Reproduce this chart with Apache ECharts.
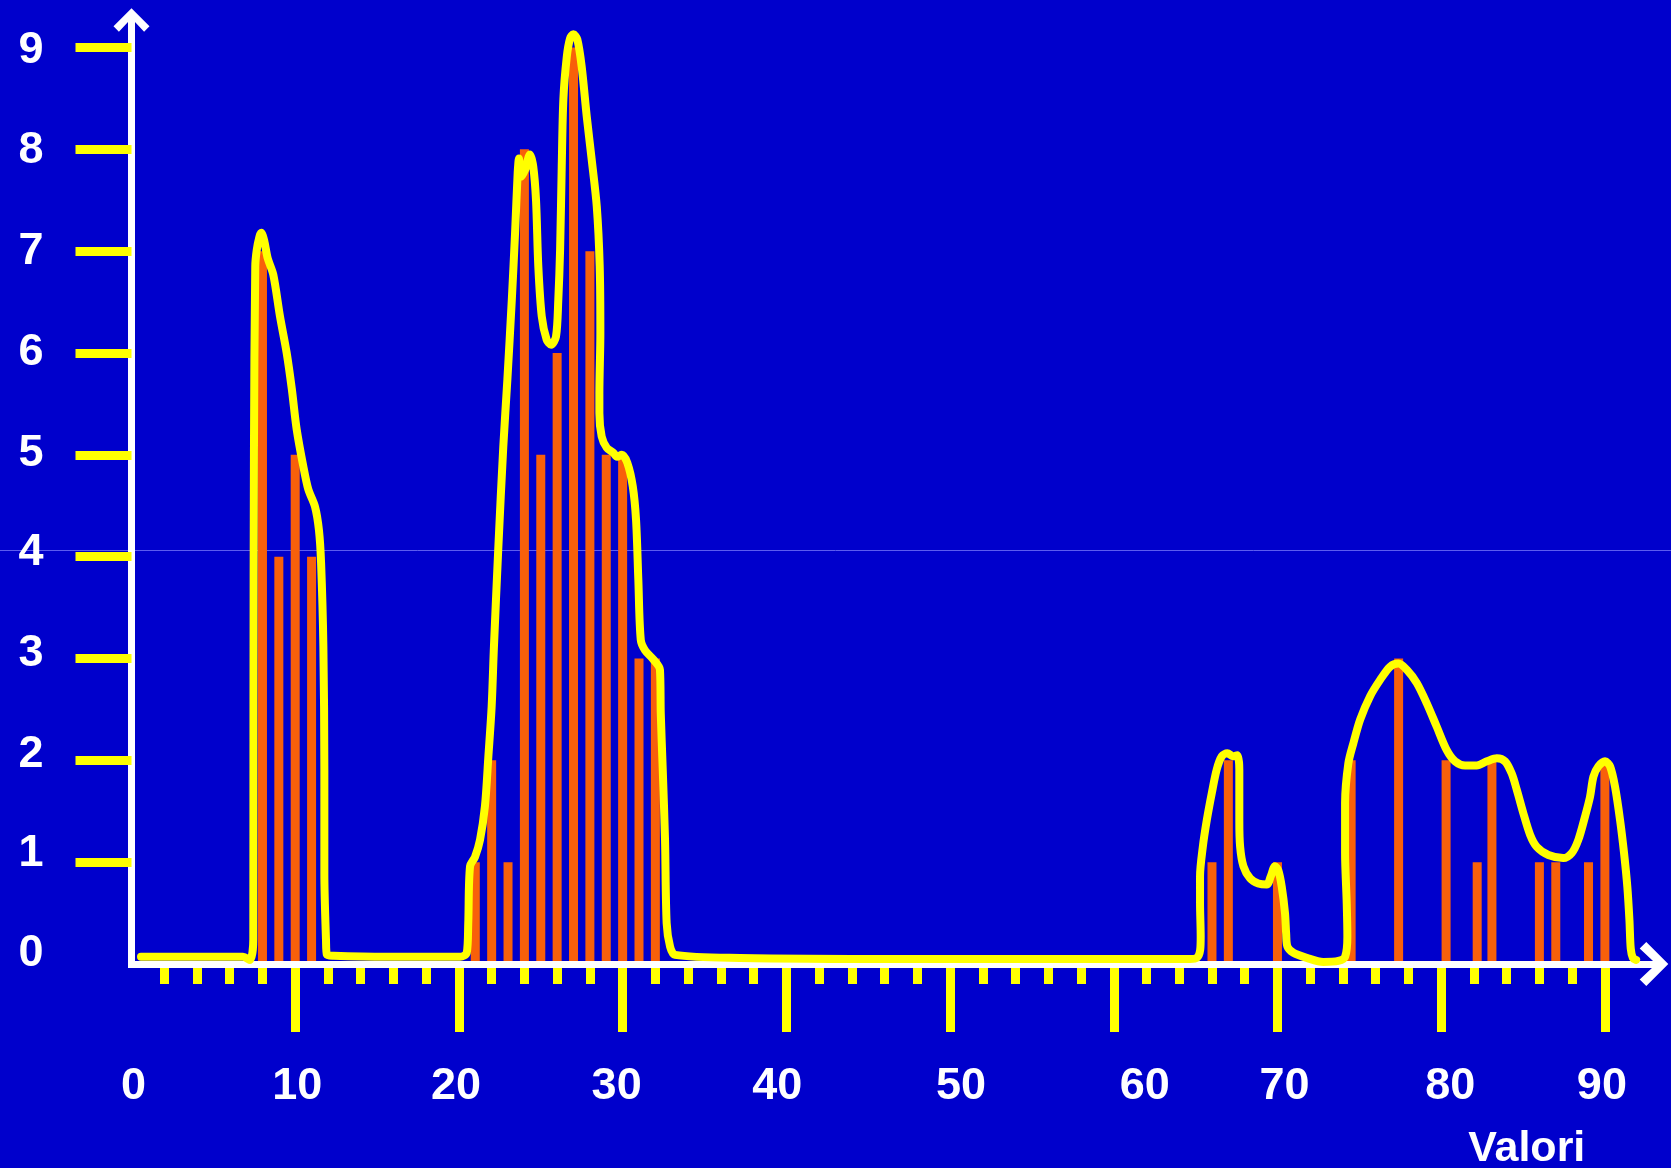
<!DOCTYPE html>
<html>
<head>
<meta charset="utf-8">
<script src="https://cdn.jsdelivr.net/npm/echarts@6/dist/echarts.min.js"></script>
<style>
html,body{margin:0;padding:0;background:#0000CC;}
#c{width:1671px;height:1168px;}
</style>
</head>
<body>
<div id="c"></div>
<script>
// ---- data ----
const barX = [8, 9, 10, 11, 21, 22, 23, 24, 25, 26, 27, 28, 29, 30, 31, 32, 66, 67, 70, 74.5, 77.4, 80.3, 82.2, 83.1, 86, 87, 89, 90];
const barY = [7, 4, 5, 4, 1, 2, 1, 8, 5, 6, 9, 7, 5, 5, 3, 3, 1, 2, 1, 2, 3, 2, 1, 2, 1, 1, 1, 2];

const curveX = [0.58, 6.81, 7.24, 7.44, 7.45, 7.48, 7.56, 7.65, 7.81, 7.93, 8.11, 8.32, 8.66, 9.07, 9.48, 9.79, 10.09, 10.49, 10.80, 11.21, 11.45, 11.58, 11.72, 11.78, 11.78, 11.88, 11.94, 12.33, 15.59, 20.07, 20.48, 20.57, 20.68, 20.98, 21.29, 21.59, 21.80, 22.00, 22.14, 22.41, 22.71, 22.96, 23.23, 23.43, 23.59, 23.67, 23.79, 24.04, 24.34, 24.54, 24.71, 24.85, 25.06, 25.36, 25.63, 25.93, 26.07, 26.18, 26.28, 26.38, 26.59, 26.79, 26.99, 27.23, 27.50, 27.81, 28.11, 28.42, 28.60, 28.64, 28.58, 28.58, 28.72, 29.03, 29.43, 29.66, 29.95, 30.29, 30.62, 30.82, 30.96, 31.11, 31.37, 31.88, 32.28, 32.33, 32.45, 32.59, 32.69, 32.90, 33.20, 37.17, 46.95, 64.66, 65.07, 65.28, 65.31, 65.27, 65.27, 65.44, 65.68, 65.99, 66.29, 66.60, 66.94, 67.27, 67.55, 67.67, 67.67, 67.72, 67.92, 68.33, 68.83, 69.35, 69.59, 69.85, 70.05, 70.26, 70.46, 70.53, 70.61, 70.97, 71.79, 72.80, 73.72, 74.13, 74.27, 74.23, 74.13, 74.13, 74.33, 74.64, 75.05, 75.66, 76.27, 76.88, 77.39, 77.90, 78.51, 79.12, 79.73, 80.34, 80.85, 81.46, 82.17, 82.79, 83.40, 83.90, 84.31, 84.62, 85.02, 85.43, 85.84, 86.55, 87.46, 87.98, 88.38, 88.79, 89.09, 89.30, 89.60, 90.01, 90.32, 90.62, 90.93, 91.17, 91.37, 91.50, 91.58, 91.71, 91.91];
const curveY = [0.07, 0.07, 0.04, 0.24, 2.59, 5.05, 6.85, 7.01, 7.14, 7.18, 7.10, 6.93, 6.77, 6.36, 6.00, 5.65, 5.25, 4.89, 4.66, 4.49, 4.26, 3.94, 3.12, 1.91, 0.89, 0.24, 0.09, 0.08, 0.07, 0.07, 0.11, 0.40, 0.96, 1.05, 1.22, 1.55, 2.04, 2.53, 3.12, 4.10, 5.08, 5.74, 6.52, 7.18, 7.77, 7.91, 7.73, 7.80, 7.95, 7.83, 7.50, 6.85, 6.36, 6.13, 6.08, 6.16, 6.52, 7.01, 7.83, 8.49, 8.91, 9.09, 9.13, 9.08, 8.81, 8.32, 7.90, 7.44, 6.85, 6.20, 5.60, 5.41, 5.18, 5.07, 5.02, 4.98, 5.00, 4.92, 4.69, 4.36, 3.77, 3.18, 3.08, 2.99, 2.89, 2.46, 1.91, 1.22, 0.40, 0.17, 0.09, 0.06, 0.05, 0.05, 0.06, 0.14, 0.27, 0.60, 0.86, 1.15, 1.41, 1.68, 1.91, 2.04, 2.07, 2.04, 2.05, 1.91, 1.41, 1.15, 0.96, 0.84, 0.79, 0.78, 0.86, 0.96, 0.92, 0.76, 0.50, 0.30, 0.17, 0.11, 0.06, 0.02, 0.03, 0.07, 0.27, 0.60, 1.09, 1.58, 1.97, 2.17, 2.40, 2.63, 2.79, 2.92, 2.95, 2.89, 2.76, 2.56, 2.33, 2.10, 1.99, 1.95, 1.95, 1.99, 2.02, 1.99, 1.87, 1.71, 1.48, 1.27, 1.15, 1.07, 1.04, 1.09, 1.22, 1.45, 1.64, 1.84, 1.94, 1.99, 1.94, 1.74, 1.41, 1.09, 0.76, 0.43, 0.15, 0.06, 0.04];

const yLabelValues = [0, 1, 2, 3, 4, 5, 6, 7, 8, 9];
const yTickValues = [1, 2, 3, 4, 5, 6, 7, 8, 9];
const xLabelValues = [0, 10, 20, 30, 40, 50, 60, 70, 80, 90];
const xShortTickValues = [2, 4, 6, 8, 10, 12, 14, 16, 18, 20, 22, 24, 26, 28, 30, 32, 34, 36, 38, 40, 42, 44, 46, 48, 50, 52, 54, 56, 58, 60, 62, 64, 66, 68, 70, 72, 74, 76, 78, 80, 82, 84, 86, 88, 90];
const xLongTickValues = [10, 20, 30, 40, 50, 60, 70, 80, 90];
const xAxisName = 'Valori';
const guideLineValue = 4.07;

// ---- styling ----
const FONT = '"Liberation Sans", Arial, sans-serif';
const BG = '#0000CC';
const YELLOW = '#FFFF00';
const ORANGE = '#F8600A';
const ARROW = 'path://M20,0 L40,20 L34,26 L20,11 L6,26 L0,20 Z';

// hand-placed label nudges in the original (pixels)
const xLabelShift = {0: 2, 10: 2, 20: -3, 30: -6, 40: -9, 50: 11, 60: 31, 70: 7, 80: 9, 90: -3};
const yLabelShift = {0: -10, 1: -9, 2: -6, 3: -5, 4: -4, 5: -1, 6: 0, 7: 0, 8: 1, 9: 3};

const xRich = {};
xLabelValues.forEach(v => {
  const s = xLabelShift[v] || 0;
  xRich['x' + v] = {
    color: '#fff', fontSize: 45, fontWeight: 'bold', fontFamily: FONT, lineHeight: 45,
    padding: s >= 0 ? [0, 0, 0, 2 * s] : [0, -2 * s, 0, 0]
  };
});
const yRich = {};
yLabelValues.forEach(v => {
  const s = yLabelShift[v] || 0;
  yRich['y' + v] = {
    color: '#fff', fontSize: 45, fontWeight: 'bold', fontFamily: FONT, lineHeight: 45,
    padding: s >= 0 ? [2 * s, 0, 0, 0] : [0, 0, -2 * s, 0]
  };
});

const chart = echarts.init(document.getElementById('c'), null, {renderer: 'canvas'});

const option = {
  backgroundColor: BG,
  animation: false,
  grid: {left: 131.5, right: 17, top: 20, bottom: 204, containLabel: false, outerBoundsMode: 'none'},
  xAxis: [
    {
      type: 'value', min: 0, max: 93, z: 3,
      splitLine: {show: false},
      axisLine: {show: true, lineStyle: {color: '#fff', width: 7, cap: 'square'},
                 symbol: ['none', ARROW], symbolSize: [44, 29]},
      axisTick: {show: false},
      axisLabel: {
        show: true, margin: 100, customValues: xLabelValues, hideOverlap: false,
        formatter: v => '{x' + v + '|' + v + '}', rich: xRich
      },
      name: xAxisName, nameLocation: 'middle', nameGap: 164, nameMoveOverlap: false,
      nameTextStyle: {color: '#fff', fontSize: 43, fontWeight: 'bold', fontFamily: FONT,
                      padding: [0, 0, 0, 1268]}
    },
    {
      type: 'value', min: 0, max: 93, position: 'bottom', offset: 8,
      splitLine: {show: false}, axisLine: {show: false}, axisLabel: {show: false},
      axisTick: {show: true, customValues: xShortTickValues, length: 20, lineStyle: {color: YELLOW, width: 9}}
    },
    {
      type: 'value', min: 0, max: 93, position: 'bottom', offset: 8,
      splitLine: {show: false}, axisLine: {show: false}, axisLabel: {show: false},
      axisTick: {show: true, customValues: xLongTickValues, length: 60, lineStyle: {color: YELLOW, width: 9}}
    }
  ],
  yAxis: [
    {
      type: 'value', min: 0, max: 9.27,
      splitLine: {show: false},
      axisLine: {show: true, lineStyle: {color: '#fff', width: 7, cap: 'square'},
                 symbol: ['none', ARROW], symbolSize: [36, 24]},
      axisTick: {show: false},
      axisLabel: {
        show: true, margin: 88, customValues: yLabelValues, hideOverlap: false,
        formatter: v => '{y' + v + '|' + v + '}', rich: yRich
      }
    },
    {
      type: 'value', min: 0, max: 9.27, position: 'left', offset: 4,
      splitLine: {show: false}, axisLine: {show: false}, axisLabel: {show: false},
      axisTick: {show: true, customValues: yTickValues, length: 56, lineStyle: {color: YELLOW, width: 9}}
    }
  ],
  series: [
    {
      type: 'bar', name: 'frequenze', z: 2, barWidth: 9,
      itemStyle: {color: ORANGE},
      data: barX.map((x, i) => [x, barY[i]])
    },
    {
      type: 'line', name: 'curva', z: 5, clip: false, smooth: 0.3,
      showSymbol: false, symbol: 'none',
      lineStyle: {color: YELLOW, width: 8, cap: 'round', join: 'round'},
      data: curveX.map((x, i) => [x, curveY[i]])
    }
  ]
};
chart.setOption(option);

// faint full-width guide line (artifact of the original slide)
const gy = chart.convertToPixel({yAxisIndex: 0}, guideLineValue);
chart.setOption({
  graphic: [{
    type: 'line', z: -10, silent: true,
    shape: {x1: 0, y1: Math.round(gy) + 0.5, x2: 1671, y2: Math.round(gy) + 0.5},
    style: {stroke: '#5c5cf0', lineWidth: 1}
  }]
});
</script>
</body>
</html>
